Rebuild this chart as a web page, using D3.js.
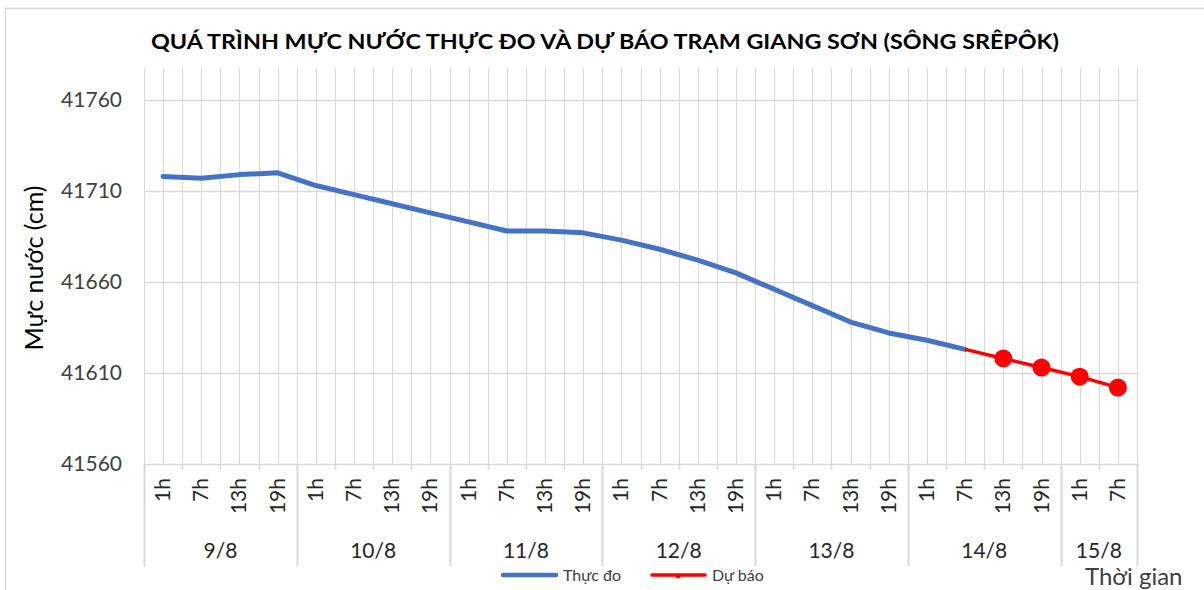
<!DOCTYPE html>
<html>
<head>
<meta charset="utf-8">
<script src="https://cdn.jsdelivr.net/npm/d3@7"></script>
<style>
  body { margin:0; background:#fff; }
  svg { display:block; font-family: Lato, "Open Sans", sans-serif; }
</style>
</head>
<body>
<svg id="chart" width="1204" height="590"></svg>
<script>
// data
const days = ["9/8","10/8","11/8","12/8","13/8","14/8","15/8"];
const hours = ["1h","7h","13h","19h"];
const nCats = 26; // 6 full days + 2 slots on 15/8
const observed = [41718,41717,41719,41720, 41713,41708,41703,41698, 41693,41688,41688,41687,
                  41683,41678,41672,41665, 41656,41647,41638,41632, 41628,41623];
const forecast = [41623,41618,41613,41608,41602]; // from 14/8 7h
const forecastStart = 21;
const yTicks = [41560,41610,41660,41710,41760];

const svg = d3.select("#chart");
const W = 1204, H = 590;
const left = 144, right = 1137, plotTop = 68, plotBottom = 464, axisBottom = 566;

const cats = d3.range(nCats);
const catHour = i => hours[i % 4];

const x = d3.scaleBand().domain(cats).range([left, right]).padding(0);
const bw = x.bandwidth();
const xc = i => x(i) + bw/2;
const y = d3.scaleLinear().domain([41560, 41760]).range([plotBottom, 100]);

const grid = "#d9d9d9";

// outer frame
svg.append("line").attr("x1",5).attr("x2",W).attr("y1",8.5).attr("y2",8.5).attr("stroke",grid).attr("stroke-width",1.5);
svg.append("line").attr("x1",5.5).attr("x2",5.5).attr("y1",8).attr("y2",H).attr("stroke",grid).attr("stroke-width",1.5);

// title
svg.append("text")
  .attr("x", 605).attr("y", 49)
  .attr("text-anchor","middle")
  .attr("font-size",20).attr("font-weight","bold").attr("fill","#000")
  .attr("textLength", 908).attr("lengthAdjust","spacingAndGlyphs")
  .text("QUÁ TRÌNH MỰC NƯỚC THỰC ĐO VÀ DỰ BÁO TRẠM GIANG SƠN (SÔNG SRÊPÔK)");

// vertical gridlines (category edges and centers)
const vx = [];
cats.forEach(i => { vx.push(x(i)); vx.push(xc(i)); });
vx.push(right);
svg.append("g").selectAll("line").data(vx).join("line")
  .attr("x1", d => Math.round(d)+0.5).attr("x2", d => Math.round(d)+0.5)
  .attr("y1", plotTop).attr("y2", plotBottom)
  .attr("stroke", grid).attr("stroke-width",1);

// horizontal gridlines
svg.append("g").selectAll("line").data(yTicks).join("line")
  .attr("x1", left).attr("x2", right)
  .attr("y1", d => Math.round(y(d))+0.5).attr("y2", d => Math.round(y(d))+0.5)
  .attr("stroke", grid).attr("stroke-width",1.5);

// y labels
svg.append("g").selectAll("text").data(yTicks).join("text")
  .attr("x", 122).attr("y", d => y(d)+7)
  .attr("text-anchor","end").attr("font-size",21).attr("fill","#404040")
  .text(d => d);

svg.append("text")
  .attr("transform","translate(43,268) rotate(-90)")
  .attr("text-anchor","middle").attr("font-size",25).attr("fill","#000")
  .text("Mực nước (cm)");

// x axis: small ticks between categories
svg.append("g").selectAll("line").data(cats.slice(1)).join("line")
  .attr("x1", d => Math.round(x(d))+0.5).attr("x2", d => Math.round(x(d))+0.5)
  .attr("y1", plotBottom).attr("y2", plotBottom+6)
  .attr("stroke", grid).attr("stroke-width",1.5);

// day separators
const dayEdges = days.map((d,i) => x(i*4)).concat([right]);
svg.append("g").selectAll("line").data(dayEdges).join("line")
  .attr("x1", d => Math.round(d)+0.5).attr("x2", d => Math.round(d)+0.5)
  .attr("y1", plotBottom).attr("y2", axisBottom)
  .attr("stroke", grid).attr("stroke-width",2);

// hour labels
svg.append("g").selectAll("text").data(cats).join("text")
  .attr("transform", i => `translate(${xc(i)+7},478) rotate(-90)`)
  .attr("text-anchor","end").attr("font-size",21).attr("fill","#262626")
  .text(i => catHour(i));

// day labels
svg.append("g").selectAll("text").data(days).join("text")
  .attr("x", (d,i) => (dayEdges[i] + dayEdges[i+1]) / 2)
  .attr("y", 558).attr("text-anchor","middle").attr("font-size",21).attr("fill","#262626")
  .text(d => d);

// lines
const obsLine = d3.line().x((d,i) => xc(i)).y(d => y(d));
svg.append("path").datum(observed)
  .attr("d", obsLine).attr("fill","none")
  .attr("stroke","#4472c4").attr("stroke-width",5).attr("stroke-linecap","round").attr("stroke-linejoin","round");

const fcLine = d3.line().x((d,i) => xc(forecastStart+i)).y(d => y(d));
svg.append("path").datum(forecast)
  .attr("d", fcLine).attr("fill","none")
  .attr("stroke","#ff0000").attr("stroke-width",3.5).attr("stroke-linejoin","round");

svg.append("g").selectAll("circle").data(forecast.slice(1)).join("circle")
  .attr("cx", (d,i) => xc(forecastStart+1+i)).attr("cy", d => y(d))
  .attr("r", 9).attr("fill","#ff0000");

// legend
const lg = svg.append("g").attr("font-size",16).attr("fill","#404040");
lg.append("line").attr("x1",503).attr("x2",556).attr("y1",575).attr("y2",575)
  .attr("stroke","#4472c4").attr("stroke-width",4.5).attr("stroke-linecap","round");
lg.append("text").attr("x",563).attr("y",581).text("Thực đo");
lg.append("line").attr("x1",652).attr("x2",705).attr("y1",575).attr("y2",575)
  .attr("stroke","#ff0000").attr("stroke-width",3.5).attr("stroke-linecap","round");
lg.append("circle").attr("cx",678).attr("cy",576).attr("r",2.5).attr("fill","#ff0000");
lg.append("text").attr("x",712).attr("y",581).text("Dự báo");

svg.append("text").attr("x",1085).attr("y",585)
  .attr("font-size",24).attr("fill","#404040").text("Thời gian");
</script>
</body>
</html>
